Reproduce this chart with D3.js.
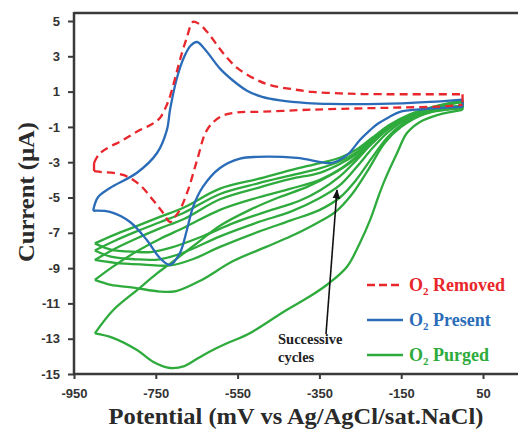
<!DOCTYPE html>
<html>
<head>
<meta charset="utf-8">
<script src="https://cdn.jsdelivr.net/npm/d3@7"></script>
<style>
  body { margin: 0; background: #fff; }
  svg { display: block; }
  .tick text { font-family: "Liberation Sans", Arial, sans-serif; font-weight: bold; font-size: 13px; fill: #333; }
</style>
</head>
<body>
<div id="chart"></div>
<script>
// tick labels
var xTicks = [-950, -750, -550, -350, -150, 50];
var yTicks = [5, 3, 1, -1, -3, -5, -7, -9, -11, -13, -15];

// O2 removed (red dashed) : [potential mV, current uA]
var removedUpper = [[-901,-3.05],[-886,-2.48],[-830,-1.74],[-789,-1.18],[-760,-0.85],[-740,-0.5],[-725,0.15],[-715,0.75],
  [-700,2.0],[-691,2.79],[-675,4.0],[-659,4.95],[-645,4.85],[-625,4.4],[-586,3.2],[-551,2.34],[-507,1.71],[-471,1.37],
  [-420,1.15],[-366,0.98],[-300,0.9],[-243,0.86],[-150,0.85],[0,0.85]];
var removedLower = [[-901,-3.5],[-886,-3.55],[-830,-3.72],[-789,-4.29],[-757,-5.14],[-732,-5.88],[-715,-6.39],[-700,-6.0],
  [-691,-5.7],[-671,-4.57],[-649,-2.88],[-625,-1.18],[-593,-0.44],[-551,-0.18],[-488,-0.14],[-400,-0.05],[-324,0.01],
  [-209,0.07],[-146,0.1],[-60,0.15],[0,0.25]];

// O2 present (blue)
var presentUpper = [[-903,-5.71],[-891,-4.97],[-862,-4.46],[-796,-3.6],[-747,-2.48],[-723,-1.18],[-715,0.0],[-698,1.8],
  [-680,3.0],[-665,3.6],[-649,3.81],[-630,3.4],[-593,2.3],[-560,1.6],[-527,1.05],[-490,0.7],[-446,0.5],[-380,0.35],
  [-324,0.3],[-202,0.3],[-80,0.42],[0,0.55]];
var presentLower = [[-903,-5.75],[-862,-5.82],[-813,-6.39],[-772,-7.41],[-740,-8.43],[-715,-8.82],[-691,-8.14],[-674,-6.84],
  [-659,-5.54],[-635,-4.4],[-593,-3.33],[-544,-2.8],[-503,-2.7],[-405,-2.76],[-324,-3.05],[-307,-2.95],[-280,-2.55],
  [-251,-1.74],[-226,-1.18],[-209,-0.85],[-180,-0.45],[-153,-0.15],[-100,0.0],[-62,0.07],[0,0.13]];

// O2 purged (green), successive cycles
var purged1Upper = [[-899,-12.7],[-855,-11.4],[-796,-10.25],[-747,-9.3],[-715,-8.75],[-650,-7.6],[-593,-6.6],[-520,-5.7],
  [-450,-5.0],[-380,-4.4],[-320,-3.7],[-270,-2.95],[-230,-2.1],[-190,-1.2],[-140,-0.5],[-80,0.05],[0,0.4]];
var purged1Lower = [[-899,-12.7],[-855,-12.95],[-796,-13.64],[-757,-14.3],[-715,-14.66],[-680,-14.55],[-650,-14.15],
  [-620,-13.75],[-580,-13.3],[-525,-12.75],[-439,-11.5],[-373,-10.6],[-329,-9.9],[-283,-8.94],[-251,-7.58],[-226,-6.27],
  [-205,-4.9],[-190,-4.0],[-160,-2.48],[-136,-1.35],[-104,-0.72],[-62,-0.33],[0,-0.04]];
var purged2Upper = [[-899,-9.67],[-860,-9.0],[-800,-8.1],[-740,-7.35],[-680,-6.7],[-593,-5.7],[-500,-5.0],[-420,-4.5],
  [-349,-4.0],[-300,-3.4],[-260,-2.7],[-220,-1.9],[-180,-1.1],[-130,-0.45],[-70,0.08],[0,0.42]];
var purged2Lower = [[-899,-9.67],[-860,-9.95],[-805,-10.1],[-740,-10.33],[-700,-10.3],[-640,-9.7],[-561,-8.6],[-480,-7.8],
  [-420,-7.2],[-360,-6.5],[-310,-5.8],[-270,-4.8],[-230,-3.4],[-190,-1.9],[-150,-1.0],[-90,-0.25],[0,0.05]];
var purged3Upper = [[-899,-8.54],[-850,-7.9],[-800,-7.35],[-740,-6.75],[-680,-6.2],[-593,-5.1],[-500,-4.45],[-420,-3.95],
  [-349,-3.6],[-300,-3.1],[-260,-2.55],[-220,-1.8],[-180,-1.0],[-130,-0.4],[-70,0.1],[0,0.45]];
var purged3Lower = [[-899,-8.54],[-850,-8.7],[-780,-8.8],[-715,-8.85],[-660,-8.5],[-593,-7.8],[-500,-6.95],[-420,-6.3],
  [-349,-5.7],[-300,-5.0],[-260,-4.0],[-220,-2.7],[-180,-1.5],[-130,-0.6],[-70,-0.1],[0,0.1]];
var purged4Upper = [[-899,-8.0],[-850,-7.45],[-800,-6.95],[-740,-6.4],[-680,-5.85],[-593,-4.8],[-500,-4.2],[-420,-3.75],
  [-349,-3.35],[-300,-2.95],[-260,-2.45],[-220,-1.7],[-180,-0.95],[-130,-0.35],[-70,0.12],[0,0.47]];
var purged4Lower = [[-899,-8.0],[-860,-8.35],[-800,-8.5],[-740,-8.5],[-680,-8.1],[-593,-7.2],[-500,-6.4],[-420,-5.8],
  [-349,-5.03],[-300,-4.3],[-260,-3.3],[-220,-2.2],[-180,-1.25],[-130,-0.5],[-70,-0.05],[0,0.15]];
var purged5Upper = [[-899,-7.6],[-850,-7.1],[-800,-6.65],[-740,-6.1],[-680,-5.55],[-593,-4.5],[-500,-3.95],[-420,-3.45],
  [-349,-3.05],[-300,-2.75],[-260,-2.3],[-220,-1.6],[-180,-0.9],[-130,-0.3],[-70,0.15],[0,0.5]];
var purged5Lower = [[-899,-7.6],[-860,-7.95],[-800,-8.08],[-762,-8.09],[-715,-7.86],[-640,-7.24],[-559,-6.44],[-480,-5.8],
  [-400,-5.2],[-349,-4.6],[-300,-3.8],[-260,-2.9],[-220,-1.9],[-180,-1.05],[-130,-0.4],[-70,0.0],[0,0.2]];

var legendItems = ["Removed", "Present", "Purged"];

var width = 518, height = 429;
var red = "#e8262b", blue = "#2b6cb8", green = "#2eab3c";

var svg = d3.select("#chart").append("svg")
    .attr("width", width)
    .attr("height", height);

var x = d3.scaleLinear().domain([-950, 50]).range([74, 483]);
var y = d3.scaleLinear().domain([-15, 5]).range([374, 21]);

// frame
svg.append("line").attr("x1", 74).attr("x2", width).attr("y1", 13).attr("y2", 13)
    .attr("stroke", "#3a3a3a").attr("stroke-width", 2.5);

var line = d3.line()
    .x(function(d) { return x(d[0]); })
    .y(function(d) { return y(d[1]); })
    .curve(d3.curveCatmullRom.alpha(0.5));

function drawLoop(upper, lower, color, dash) {
    var g = svg.append("g")
        .attr("fill", "none")
        .attr("stroke", color)
        .attr("stroke-width", 2.3)
        .attr("stroke-linejoin", "round");
    if (dash) g.attr("stroke-dasharray", dash);
    g.append("path").attr("d", line(upper));
    g.append("path").attr("d", line(lower));
    // close both ends
    g.append("path").attr("d", d3.line()([[x(upper[0][0]), y(upper[0][1])], [x(lower[0][0]), y(lower[0][1])]]));
    var u = upper[upper.length - 1], l = lower[lower.length - 1];
    g.append("path").attr("d", d3.line()([[x(u[0]), y(u[1])], [x(l[0]), y(l[1])]]));
}

drawLoop(purged1Upper, purged1Lower, green);
drawLoop(purged2Upper, purged2Lower, green);
drawLoop(purged3Upper, purged3Lower, green);
drawLoop(purged4Upper, purged4Lower, green);
drawLoop(purged5Upper, purged5Lower, green);
drawLoop(presentUpper, presentLower, blue);
drawLoop(removedUpper, removedLower, red, "8,5");

// axes (plain hyphen in labels, as in the original)
var fmt = function(d) { return String(d); };
var xAxis = d3.axisBottom(x).tickValues(xTicks).tickSize(5).tickPadding(10).tickFormat(fmt);
var yAxis = d3.axisLeft(y).tickValues(yTicks).tickSize(6).tickPadding(8).tickFormat(fmt);

var gx = svg.append("g").attr("transform", "translate(0,374)").call(xAxis);
var gy = svg.append("g").attr("transform", "translate(74,0)").call(yAxis);
gx.select(".domain").remove();
gy.select(".domain").remove();
svg.selectAll(".tick line").attr("stroke", "#3a3a3a").attr("stroke-width", 2);

svg.append("line").attr("x1", 74).attr("x2", 74).attr("y1", 12).attr("y2", 375)
    .attr("stroke", "#3a3a3a").attr("stroke-width", 2.5);
svg.append("line").attr("x1", 73).attr("x2", width).attr("y1", 374).attr("y2", 374)
    .attr("stroke", "#3a3a3a").attr("stroke-width", 2.5);

// axis titles
svg.append("text")
    .attr("x", 296).attr("y", 424)
    .attr("text-anchor", "middle")
    .attr("textLength", 375).attr("lengthAdjust", "spacingAndGlyphs")
    .style("font-family", "'Liberation Serif', 'Times New Roman', serif")
    .style("font-weight", "bold").style("font-size", "24px").style("fill", "#2a2a2a")
    .text("Potential (mV vs Ag/AgCl/sat.NaCl)");

svg.append("text")
    .attr("transform", "translate(34,192) rotate(-90)")
    .attr("text-anchor", "middle")
    .attr("textLength", 140).attr("lengthAdjust", "spacingAndGlyphs")
    .style("font-family", "'Liberation Serif', 'Times New Roman', serif")
    .style("font-weight", "bold").style("font-size", "24px").style("fill", "#2a2a2a")
    .text("Current (µA)");

// annotation
svg.append("defs").append("marker")
    .attr("id", "head").attr("viewBox", "0 0 10 10")
    .attr("refX", 9).attr("refY", 5)
    .attr("markerWidth", 6).attr("markerHeight", 6)
    .attr("orient", "auto")
  .append("path").attr("d", "M0,1L10,5L0,9z").attr("fill", "#111");

svg.append("line")
    .attr("x1", 326).attr("y1", 334).attr("x2", 337).attr("y2", 190)
    .attr("stroke", "#111").attr("stroke-width", 1.6)
    .attr("marker-end", "url(#head)");

var ann = svg.append("text")
    .style("font-family", "'Liberation Serif', 'Times New Roman', serif")
    .style("font-weight", "bold").style("font-size", "14.5px").style("fill", "#222");
ann.append("tspan").attr("x", 278).attr("y", 344).text("Successive");
ann.append("tspan").attr("x", 278).attr("y", 362).text("cycles");

// legend
var legendColors = [red, blue, green];
var legendY = [285, 320, 355];
var legend = svg.selectAll(".legend").data(legendItems).enter().append("g")
    .attr("class", "legend")
    .attr("transform", function(d, i) { return "translate(367," + legendY[i] + ")"; });

legend.append("line")
    .attr("x1", 0).attr("x2", 36)
    .attr("stroke", function(d, i) { return legendColors[i]; })
    .attr("stroke-width", 2.6)
    .attr("stroke-dasharray", function(d, i) { return i === 0 ? "8,4" : null; });

var lt = legend.append("text")
    .attr("x", 42).attr("y", 6)
    .style("font-family", "'Liberation Serif', 'Times New Roman', serif")
    .style("font-weight", "bold").style("font-size", "18px")
    .style("fill", function(d, i) { return legendColors[i]; });
lt.append("tspan").text("O");
lt.append("tspan").attr("dy", 4).style("font-size", "11px").text("2");
lt.append("tspan").attr("dy", -4).text(" ");
lt.append("tspan").text(function(d) { return d; });
</script>
</body>
</html>
